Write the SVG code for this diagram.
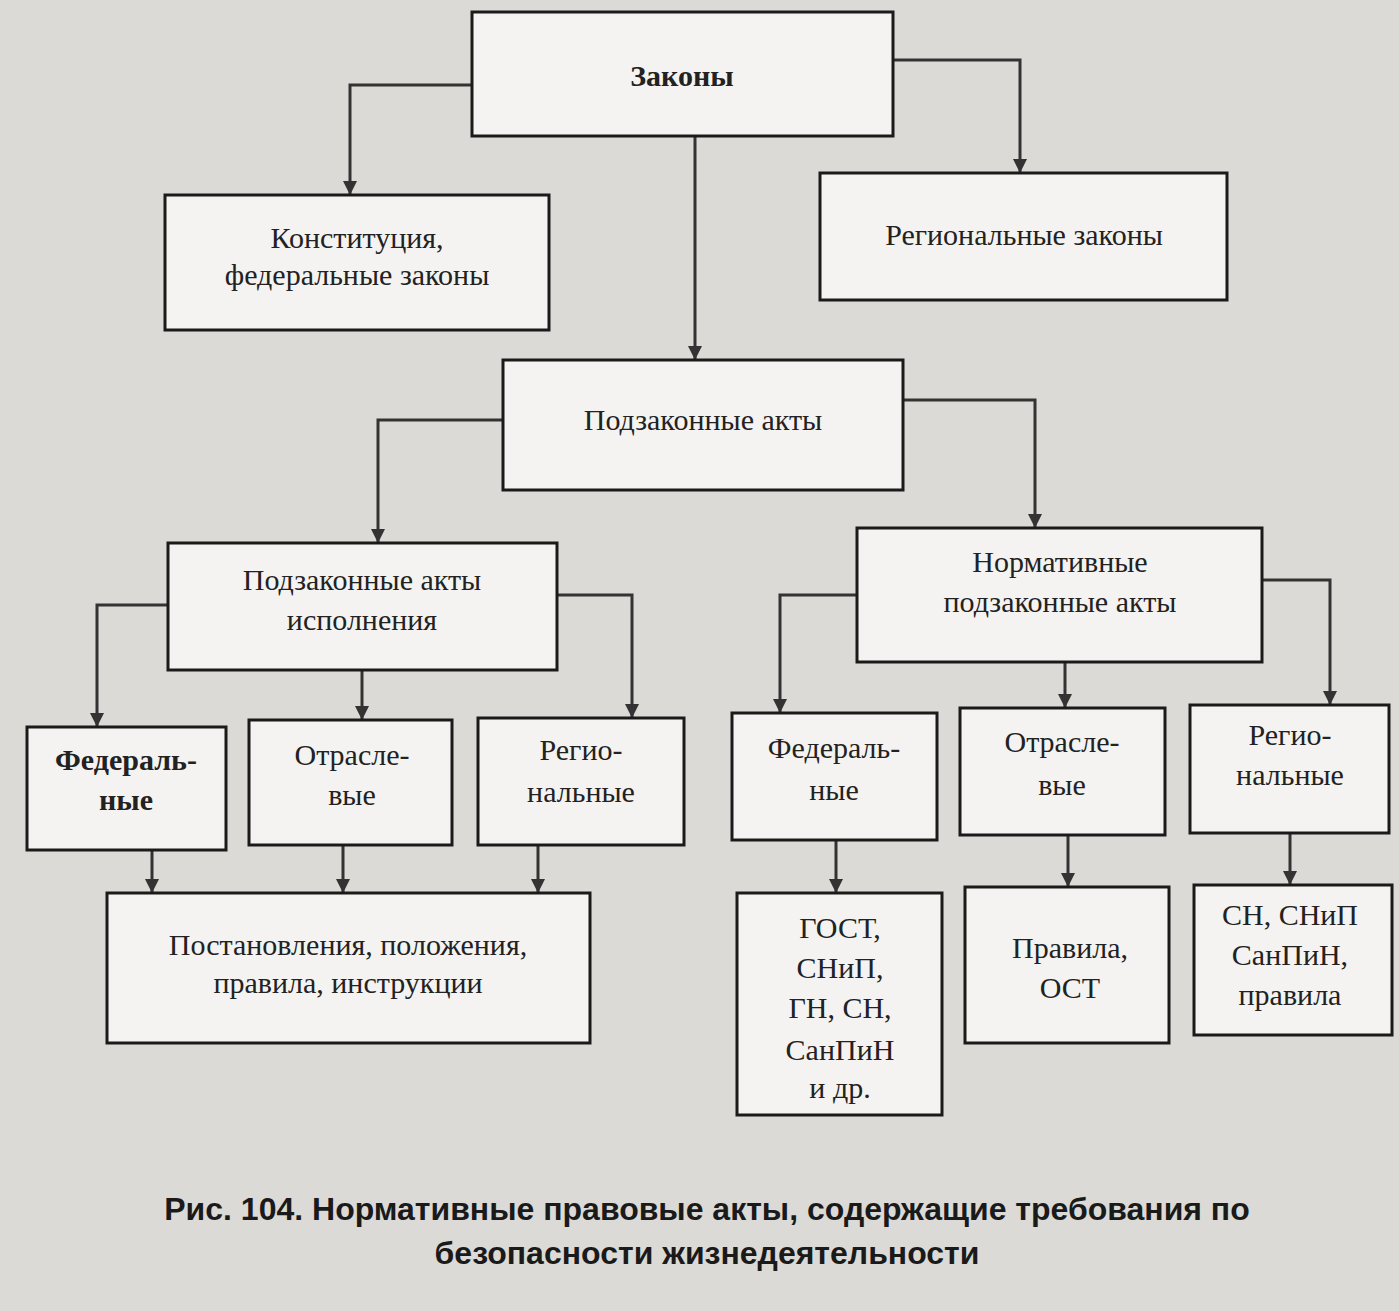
<svg xmlns="http://www.w3.org/2000/svg" width="1399" height="1311" viewBox="0 0 1399 1311">
<style>
.b{fill:#f4f3f1;stroke:#1a1a1a;stroke-width:3}
.t{font-family:"Liberation Serif",serif;font-size:30px;fill:#222;text-anchor:middle}
.c{fill:none;stroke:#333;stroke-width:3}
.cap{font-family:"Liberation Sans",sans-serif;font-weight:bold;font-size:32px;fill:#1a1a1a;text-anchor:middle}
</style>
<defs><marker id="a" markerWidth="14" markerHeight="16" refX="14" refY="7" orient="auto" markerUnits="userSpaceOnUse" viewBox="0 0 14 14"><path d="M0,0L14,7L0,14z" fill="#333"/></marker></defs>
<rect width="1399" height="1311" fill="#dcdad6"/>
<g id="connectors" marker-end="url(#a)">
<path class="c" d="M472,85H350V195"/>
<path class="c" d="M893,60H1020V173"/>
<path class="c" d="M695,136V360"/>
<path class="c" d="M503,420H378V543"/>
<path class="c" d="M903,400H1035V528"/>
<path class="c" d="M168,605H97V727"/>
<path class="c" d="M362,670V720"/>
<path class="c" d="M557,595H632V718"/>
<path class="c" d="M857,595H780V713"/>
<path class="c" d="M1065,662V708"/>
<path class="c" d="M1262,580H1330V705"/>
<path class="c" d="M152,850V893"/>
<path class="c" d="M343,845V893"/>
<path class="c" d="M538,845V893"/>
<path class="c" d="M836,840V893"/>
<path class="c" d="M1068,835V887"/>
<path class="c" d="M1290,833V885"/>
</g>
<g id="n1"><rect class="b" x="472" y="12" width="421" height="124"/><text class="t" x="682" y="86" font-weight="bold" font-size="28">Законы</text></g>
<g id="n2"><rect class="b" x="165" y="195" width="384" height="135"/><text class="t" x="357" y="248">Конституция,</text><text class="t" x="357" y="285">федеральные законы</text></g>
<g id="n3"><rect class="b" x="820" y="173" width="407" height="127"/><text class="t" x="1024" y="245">Региональные законы</text></g>
<g id="n4"><rect class="b" x="503" y="360" width="400" height="130"/><text class="t" x="703" y="430">Подзаконные акты</text></g>
<g id="n5"><rect class="b" x="168" y="543" width="389" height="127"/><text class="t" x="362" y="590">Подзаконные акты</text><text class="t" x="362" y="630">исполнения</text></g>
<g id="n6"><rect class="b" x="857" y="528" width="405" height="134"/><text class="t" x="1060" y="572">Нормативные</text><text class="t" x="1060" y="612">подзаконные акты</text></g>
<g id="n7"><rect class="b" x="27" y="727" width="199" height="123"/><text class="t" x="126" y="770" font-weight="bold">Федераль-</text><text class="t" x="126" y="810" font-weight="bold">ные</text></g>
<g id="n8"><rect class="b" x="249" y="720" width="203" height="125"/><text class="t" x="352" y="765">Отрасле-</text><text class="t" x="352" y="805">вые</text></g>
<g id="n9"><rect class="b" x="478" y="718" width="206" height="127"/><text class="t" x="581" y="760">Регио-</text><text class="t" x="581" y="802">нальные</text></g>
<g id="n10"><rect class="b" x="107" y="893" width="483" height="150"/><text class="t" x="348" y="955">Постановления, положения,</text><text class="t" x="348" y="993">правила, инструкции</text></g>
<g id="n11"><rect class="b" x="732" y="713" width="205" height="127"/><text class="t" x="834" y="758">Федераль-</text><text class="t" x="834" y="800">ные</text></g>
<g id="n12"><rect class="b" x="960" y="708" width="205" height="127"/><text class="t" x="1062" y="752">Отрасле-</text><text class="t" x="1062" y="795">вые</text></g>
<g id="n13"><rect class="b" x="1190" y="705" width="199" height="128"/><text class="t" x="1290" y="745">Регио-</text><text class="t" x="1290" y="785">нальные</text></g>
<g id="n14"><rect class="b" x="737" y="893" width="205" height="222"/><text class="t" x="840" y="938">ГОСТ,</text><text class="t" x="840" y="978">СНиП,</text><text class="t" x="840" y="1018">ГН, СН,</text><text class="t" x="840" y="1060">СанПиН</text><text class="t" x="840" y="1098" font-size="26">и др.</text></g>
<g id="n15"><rect class="b" x="965" y="887" width="204" height="156"/><text class="t" x="1070" y="958">Правила,</text><text class="t" x="1070" y="998">ОСТ</text></g>
<g id="n16"><rect class="b" x="1194" y="885" width="198" height="150"/><text class="t" x="1290" y="925">СН, СНиП</text><text class="t" x="1290" y="965">СанПиН,</text><text class="t" x="1290" y="1005">правила</text></g>
<text class="cap" x="707" y="1220">Рис. 104. Нормативные правовые акты, содержащие требования по</text>
<text class="cap" x="707" y="1264">безопасности жизнедеятельности</text>
</svg>
